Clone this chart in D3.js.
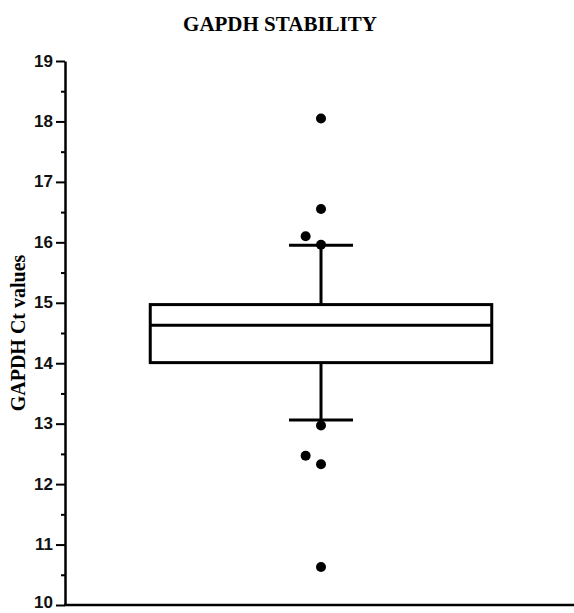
<!DOCTYPE html>
<html>
<head>
<meta charset="utf-8">
<script src="https://cdn.jsdelivr.net/npm/d3@7"></script>
<style>
  body { margin: 0; background: #fff; }
  .tick text { font-family: "Liberation Sans", Arial, sans-serif; font-weight: bold; font-size: 17px; }
</style>
</head>
<body>
<div id="chart"></div>
<script>
// box summary (Ct values)
var boxStats = { q1: 14.01, median: 14.63, q3: 14.97, whiskLo: 13.06, whiskHi: 15.95 };
// outlier points and their horizontal jitter (x units)
var outValues = [18.05, 16.55, 16.10, 15.96, 12.97, 12.47, 12.33, 10.63];
var outJitter = [0, 0, -0.03, 0, 0, -0.03, 0, 0];
var yTicks = [10, 11, 12, 13, 14, 15, 16, 17, 18, 19];

function drawBox(targetID){
  var W = 574, H = 613;
  var margin = {top: 61, right: 0, bottom: 8, left: 65},
      height = H - margin.top - margin.bottom;

  var x = d3.scaleLinear().domain([0, 1]).range([margin.left, 577]);
  var y = d3.scaleLinear().domain([10, 19]).range([margin.top + height, margin.top]);

  var svg = d3.select(targetID).append("svg")
      .attr("width", W)
      .attr("height", H);

  svg.append("text")
      .attr("x", 280).attr("y", 31)
      .attr("text-anchor", "middle")
      .style("font-family", "'Liberation Serif', 'Times New Roman', serif")
      .style("font-weight", "bold")
      .style("font-size", "21px")
      .text("GAPDH STABILITY");

  svg.append("text")
      .attr("transform", "translate(25," + y(14.5) + ") rotate(-90)")
      .attr("text-anchor", "middle")
      .style("font-family", "'Liberation Serif', 'Times New Roman', serif")
      .style("font-weight", "bold")
      .style("font-size", "20px")
      .text("GAPDH Ct values");

  // minor ticks
  var yMinor = d3.axisLeft(y).tickValues(d3.range(10.5, 19, 1)).tickSize(4).tickFormat("");
  svg.append("g")
      .attr("transform", "translate(" + margin.left + ",0)")
      .call(yMinor)
      .call(function(g){ g.select(".domain").remove(); g.selectAll("line").attr("stroke-width", 2); });

  var yAxis = d3.axisLeft(y).tickValues(yTicks).tickSize(9).tickSizeOuter(0).tickPadding(3);
  svg.append("g")
      .attr("transform", "translate(" + margin.left + ",0)")
      .call(yAxis)
      .call(function(g){
        g.select(".domain").attr("stroke-width", 2.5);
        g.selectAll("line").attr("stroke-width", 2);
        g.selectAll("text").attr("fill", "#111")
          .attr("dy", function(d){ return d === 10 ? "0.15em" : "0.3em"; });
      });

  // x axis line
  svg.append("line")
      .attr("x1", margin.left - 1).attr("x2", W)
      .attr("y1", y(10)).attr("y2", y(10))
      .attr("stroke", "#000").attr("stroke-width", 2.5);

  var c = 0.5, bw = 0.667, cw = 0.125;
  var g = svg.append("g").attr("stroke", "#000").attr("stroke-width", 3).attr("fill", "none");

  // whiskers
  g.append("line").attr("x1", x(c)).attr("x2", x(c)).attr("y1", y(boxStats.q3)).attr("y2", y(boxStats.whiskHi));
  g.append("line").attr("x1", x(c)).attr("x2", x(c)).attr("y1", y(boxStats.q1)).attr("y2", y(boxStats.whiskLo));
  g.append("line").attr("x1", x(c - cw / 2)).attr("x2", x(c + cw / 2)).attr("y1", y(boxStats.whiskHi)).attr("y2", y(boxStats.whiskHi));
  g.append("line").attr("x1", x(c - cw / 2)).attr("x2", x(c + cw / 2)).attr("y1", y(boxStats.whiskLo)).attr("y2", y(boxStats.whiskLo));

  // box
  g.append("rect")
      .attr("x", x(c - bw / 2))
      .attr("y", y(boxStats.q3))
      .attr("width", x(c + bw / 2) - x(c - bw / 2))
      .attr("height", y(boxStats.q1) - y(boxStats.q3));
  g.append("line").attr("x1", x(c - bw / 2)).attr("x2", x(c + bw / 2)).attr("y1", y(boxStats.median)).attr("y2", y(boxStats.median));

  svg.selectAll("circle.pt")
      .data(outValues)
    .enter().append("circle")
      .attr("class", "pt")
      .attr("cx", function(d, i){ return x(c + outJitter[i]); })
      .attr("cy", function(d){ return y(d); })
      .attr("r", 5)
      .attr("fill", "#000");
}

drawBox("#chart");
</script>
</body>
</html>
